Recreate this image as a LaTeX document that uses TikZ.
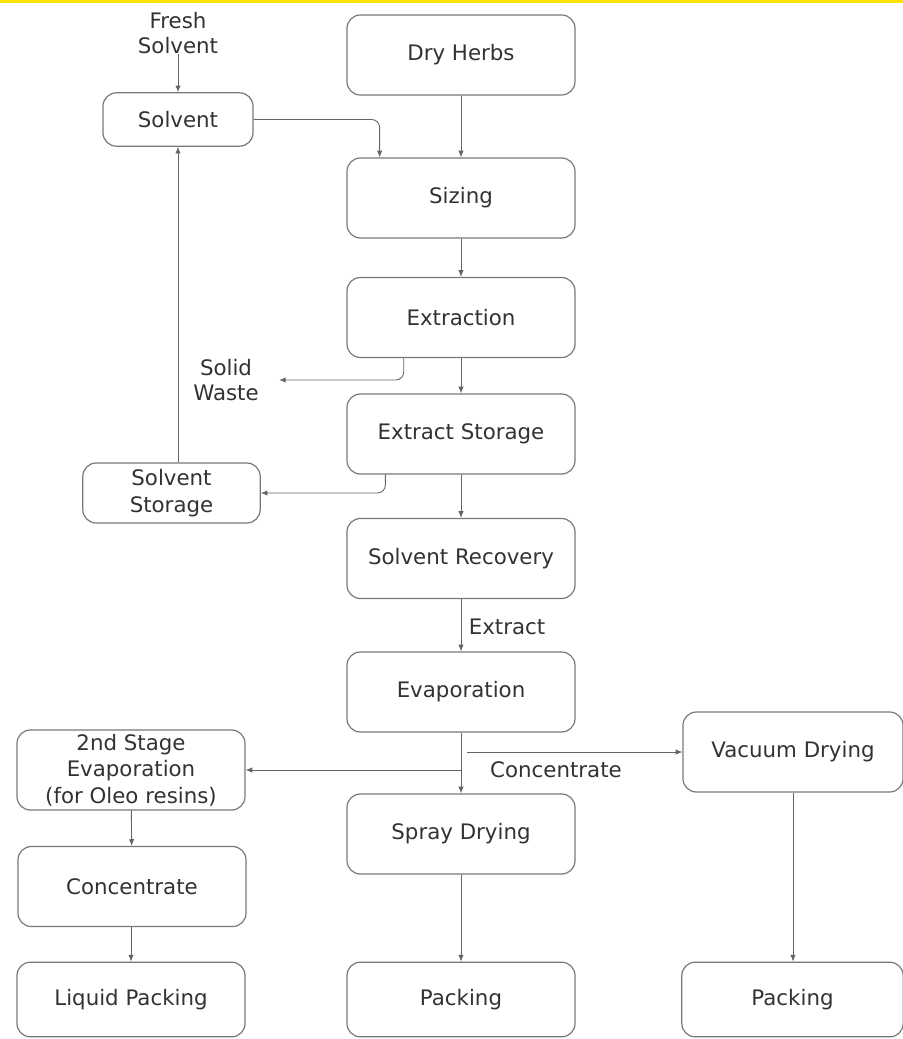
\documentclass[tikz,border=0pt]{standalone}
\usepackage{fontspec}
\setmainfont{DejaVu Sans}
\usetikzlibrary{arrows.meta,calc}
\definecolor{boxgrey}{RGB}{120,120,120}
\definecolor{linegrey}{RGB}{100,100,100}
\definecolor{txtgrey}{RGB}{50,50,50}
\definecolor{bandyellow}{RGB}{255,228,0}

\begin{document}
\begin{tikzpicture}[x=0.75pt,y=0.75pt,yscale=-1,xscale=1,
	proc/.style={draw=boxgrey, line width=0.9pt, rounded corners=10pt, align=center, text=txtgrey, font=\fontsize{16}{20}\selectfont, inner sep=0pt, minimum width=171pt, minimum height=60pt},
	lbl/.style={align=center, text=txtgrey, font=\fontsize{16}{19}\selectfont, inner sep=0pt},
	flow/.style={draw=linegrey, line width=0.65pt, -{Latex[length=5pt,width=4pt]}}]
	%set diagram size to the reference
	\useasboundingbox (0,0) rectangle (903,1039);
	\fill[bandyellow] (0,0) rectangle (903,3);
	
	%Main column
	\node[proc] (herbs) at (461,55) {Dry Herbs};
	\node[proc] (sizing) at (461,198) {Sizing};
	\node[proc] (extraction) at (461,317.5) {Extraction};
	\node[proc] (extstore) at (461,434) {Extract Storage};
	\node[proc] (recovery) at (461,558.5) {Solvent Recovery};
	\node[proc] (evap) at (461,692) {Evaporation};
	\node[proc] (spray) at (461,834) {Spray Drying};
	\node[proc, minimum height=56pt] (packmid) at (461,999.5) {Packing};
	
	%Left column
	\node[lbl] (fresh) at (178,33) {Fresh\\Solvent};
	\node[proc, minimum width=112.5pt, minimum height=40pt] (solvent) at (178,119.5) {Solvent};
	\node[lbl] (waste) at (226,380) {Solid\\Waste};
	\node[proc, minimum width=133pt, minimum height=45pt] (solstore) at (171.5,493) {Solvent\\Storage};
	\node[proc] (stage) at (131,770) {2nd Stage\\Evaporation\\(for Oleo resins)};
	\node[proc] (conc) at (132,886.5) {Concentrate};
	\node[proc, minimum height=56pt] (liqpack) at (131,999.5) {Liquid Packing};
	
	%Right column
	\node[proc, minimum width=165pt] (vacuum) at (793,752) {Vacuum Drying};
	\node[proc, minimum width=166pt, minimum height=56pt] (packright) at (792.5,999.5) {Packing};
	
	%Labels on the flow
	\node[lbl] (extractlbl) at (507,627) {Extract};
	\node[lbl] (conclbl) at (556,770) {Concentrate};
	
	%Helper points
	\coordinate (sizin) at ($(sizing.north west)!0.145!(sizing.north east)$);
	\coordinate (wasteout) at ($(extraction.south west)!0.25!(extraction.south east)$);
	\coordinate (storeout) at ($(extstore.south west)!0.17!(extstore.south east)$);
	\coordinate (vacout) at ([xshift=4.5pt]evap.south |- vacuum.west);
	
	%Connectors
	\draw[flow] (fresh) -- (solvent);
	\draw[flow, rounded corners=6pt] (solvent.east) -| (sizin);
	\draw[flow] (herbs) -- (sizing);
	\draw[flow] (sizing) -- (extraction);
	\draw[flow] (extraction) -- (extstore);
	\draw[flow, rounded corners=6pt, shorten >=15pt] (wasteout) |- (waste.east);
	\draw[flow] (extstore) -- (recovery);
	\draw[flow, rounded corners=6pt] (storeout) |- (solstore.east);
	\draw[flow] (solstore.north -| solvent.south) -- (solvent.south);
	\draw[flow] (recovery) -- (evap);
	\draw[flow] (evap) -- (spray);
	\draw[flow] (evap.south |- stage.east) -- (stage.east);
	\draw[flow] (vacout) -- (vacuum.west);
	\draw[flow] (stage) -- (conc);
	\draw[flow] (conc.south -| liqpack.north) -- (liqpack.north);
	\draw[flow] (spray) -- (packmid);
	\draw[flow] (vacuum.south) -- (vacuum.south |- packright.north);
	
\end{tikzpicture}
\end{document}
